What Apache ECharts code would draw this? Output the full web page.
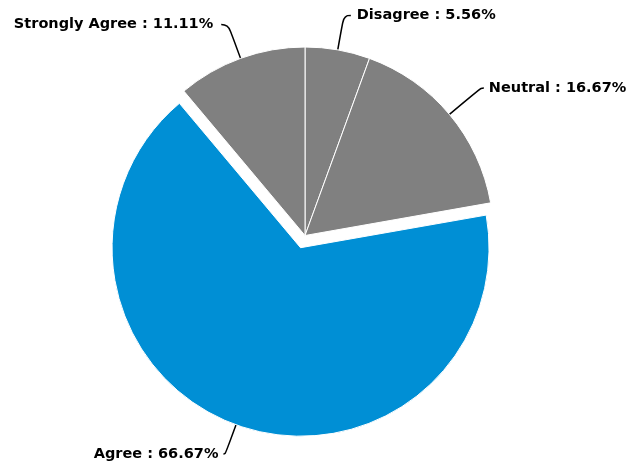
<!DOCTYPE html>
<html>
<head>
<meta charset="utf-8">
<script src="https://cdn.jsdelivr.net/npm/echarts@6/dist/echarts.min.js"></script>
<style>
  html, body { margin: 0; padding: 0; background: #ffffff; }
  #chart { width: 630px; height: 471px; }
</style>
</head>
<body>
<div id="chart"></div>
<script>
// Survey responses (shares in percent)
const categories = ['Disagree', 'Neutral', 'Agree', 'Strongly Agree'];
const shares = [5.56, 16.67, 66.67, 11.11];
const sliceColors = ['#808080', '#808080', '#008fd5', '#808080'];
const highlighted = 'Agree';
// connector legs: radial part, horizontal part, gap to the text
const leaderLengths = [35, 41, 31, 36];
const leaderTails = [7, 3, 2, 7];
const labelGaps = [6, 5, 5, 8];

const chart = echarts.init(document.getElementById('chart'));

const data = categories.map((name, i) => ({
  name: name,
  value: shares[i],
  selected: name === highlighted,
  itemStyle: { color: sliceColors[i] },
  label: { distanceToLabelLine: labelGaps[i] },
  labelLine: { length: leaderLengths[i], length2: leaderTails[i] }
}));

chart.setOption({
  animation: false,
  series: [{
    type: 'pie',
    center: [305, 235.5],
    radius: 188.5,
    startAngle: 90,
    clockwise: true,
    selectedMode: 'single',
    selectedOffset: 13,
    avoidLabelOverlap: false,
    itemStyle: { borderColor: '#ffffff', borderWidth: 1 },
    label: {
      show: true,
      formatter: p => p.name + ' : ' + p.value.toFixed(2) + '%',
      fontFamily: 'DejaVu Sans',
      fontWeight: 'bold',
      fontSize: 14.5,
      color: '#000000'
    },
    labelLine: {
      show: true,
      smooth: 0.5,
      lineStyle: { color: '#000000', width: 1.5 }
    },
    emphasis: { disabled: true },
    data: data
  }]
});
</script>
</body>
</html>
